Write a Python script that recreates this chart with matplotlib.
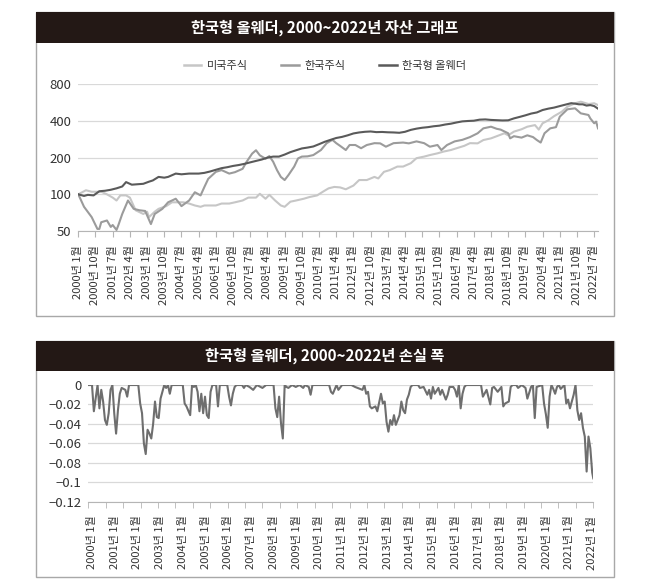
import matplotlib
matplotlib.use("Agg")
import matplotlib.pyplot as plt
from matplotlib.patches import Rectangle
from matplotlib.lines import Line2D
import numpy as np

plt.rcParams['font.family'] = ['Noto Sans CJK KR', 'DejaVu Sans']
plt.rcParams['axes.unicode_minus'] = True

# ---------------- data (month index: 0 = 2000-01) ----------------
title_top = "한국형 올웨더, 2000~2022년 자산 그래프"
title_bottom = "한국형 올웨더, 2000~2022년 손실 폭"
series_names = ["미국주식", "한국주식", "한국형 올웨더"]

# 미국주식 (month, value)
us_points = [
    (0, 100), (4, 108), (7, 105), (12, 105), (15, 100), (18, 94), (20, 89), (22, 98), (25, 98),
    (27, 94), (30, 74), (34, 69), (36, 72), (37, 65), (40, 72), (42, 76), (46, 80), (49, 86),
    (55, 86), (58, 84), (61, 81), (64, 79), (66, 81), (72, 81), (75, 84), (79, 84), (82, 86),
    (86, 89), (89, 94), (93, 94), (95, 101), (98, 92), (100, 99), (103, 89), (106, 81),
    (108, 79), (111, 87), (114, 89), (118, 92), (121, 95), (125, 98), (128, 105), (131, 112),
    (134, 115), (137, 114), (140, 110), (144, 118), (147, 131), (151, 131), (155, 139),
    (157, 135), (160, 153), (163, 158), (167, 169), (170, 169), (174, 180), (177, 198),
    (181, 204), (184, 210), (188, 217), (191, 224), (195, 231), (198, 239), (202, 250),
    (205, 263), (209, 262), (212, 279), (216, 288), (219, 300), (223, 317), (225, 305),
    (228, 327), (232, 342), (235, 359), (239, 370), (241, 340), (243, 383), (246, 405),
    (249, 438), (253, 476), (256, 524), (260, 559), (263, 576), (267, 551), (270, 559),
    (272, 540),
]
# 한국주식 (month, value)
kr_points = [
    (0, 100), (3, 79), (7, 65), (10, 52), (11, 52), (12, 59), (15, 61), (17, 54), (18, 56),
    (20, 51), (21, 56), (23, 69), (26, 89), (29, 76), (32, 74), (35, 73), (38, 57), (40, 69),
    (44, 76), (47, 86), (51, 92), (53, 84), (54, 80), (58, 89), (61, 104), (64, 98), (66, 115),
    (68, 134), (72, 153), (75, 158), (79, 148), (82, 152), (86, 162), (88, 184), (91, 216),
    (93, 230), (95, 209), (98, 196), (100, 206), (102, 185), (104, 158), (106, 139), (108, 131),
    (110, 144), (113, 169), (115, 197), (117, 204), (120, 205), (123, 210), (127, 231),
    (130, 263), (133, 280), (135, 263), (137, 250), (140, 231), (142, 254), (145, 254),
    (148, 239), (151, 254), (155, 263), (158, 262), (161, 246), (165, 263), (170, 266),
    (173, 262), (177, 272), (181, 263), (184, 246), (188, 254), (190, 231), (193, 254),
    (197, 272), (201, 280), (205, 295), (209, 317), (212, 348), (216, 359), (219, 345),
    (221, 340), (225, 317), (226, 288), (228, 300), (232, 292), (235, 305), (238, 295),
    (240, 279), (242, 266), (244, 317), (247, 348), (250, 356), (252, 434), (256, 499),
    (260, 508), (263, 462), (267, 448), (268, 419), (270, 383), (271, 395), (272, 348),
]
# 한국형 올웨더 (month, value)
aw_points = [
    (0, 100), (3, 97), (5, 99), (8, 98), (11, 106), (14, 107), (17, 109), (20, 112), (23, 116),
    (25, 126), (28, 120), (31, 121), (34, 122), (37, 127), (39, 130), (42, 139), (45, 137),
    (47, 139), (51, 148), (54, 146), (58, 148), (63, 148), (66, 150), (69, 154), (72, 159),
    (75, 164), (78, 167), (81, 171), (84, 174), (87, 178), (90, 183), (93, 188), (96, 193),
    (99, 200), (102, 204), (105, 204), (108, 212), (111, 222), (114, 230), (117, 238),
    (120, 242), (123, 247), (126, 258), (129, 270), (132, 280), (135, 290), (138, 296),
    (141, 305), (144, 316), (147, 322), (150, 326), (153, 328), (156, 324), (159, 325),
    (162, 323), (165, 322), (168, 320), (171, 326), (174, 338), (177, 346), (180, 352),
    (183, 356), (186, 362), (189, 366), (192, 374), (195, 380), (198, 389), (201, 397),
    (204, 400), (207, 402), (210, 410), (213, 412), (216, 408), (219, 406), (222, 404),
    (225, 405), (228, 420), (231, 432), (234, 445), (237, 460), (240, 470), (243, 492),
    (246, 505), (249, 515), (252, 530), (255, 545), (258, 560), (260, 555), (262, 548),
    (264, 548), (266, 535), (268, 540), (270, 530), (272, 505),
]
# 손실 폭 (month, value)
dd_points = [
    (0, 0), (2, 0), (3, -0.027), (5, 0), (6, -0.024), (7, -0.005), (8, -0.017), (9, -0.036),
    (10, -0.041), (11, -0.029), (12, -0.005), (13, 0), (14, -0.029), (15, -0.050), (16, -0.026),
    (17, -0.009), (18, -0.003), (20, -0.005), (21, -0.012), (22, 0), (27, 0), (28, -0.019),
    (29, -0.029), (30, -0.060), (31, -0.071), (32, -0.046), (33, -0.050), (34, -0.055),
    (35, -0.040), (36, -0.017), (37, -0.033), (38, -0.034), (39, -0.014), (40, -0.007), (41, 0),
    (42, -0.003), (43, 0), (44, -0.009), (45, 0), (51, 0), (52, -0.019), (53, -0.022),
    (55, -0.031), (56, 0), (57, -0.002), (58, 0), (59, -0.007), (60, -0.027), (61, -0.009),
    (62, -0.029), (63, -0.012), (64, -0.031), (65, -0.034), (66, -0.007), (67, 0), (69, 0),
    (70, -0.022), (71, 0), (75, 0), (76, -0.012), (77, -0.021), (78, -0.009), (79, -0.002),
    (80, 0), (83, 0), (84, -0.003), (85, 0), (87, -0.002), (89, -0.005), (91, 0), (93, -0.002),
    (94, -0.003), (96, 0), (100, 0), (101, -0.024), (102, -0.033), (103, -0.012), (104, -0.039),
    (105, -0.055), (106, 0), (107, -0.002), (108, -0.003), (110, 0), (112, -0.002), (114, 0),
    (116, -0.003), (117, 0), (119, -0.002), (120, -0.010), (121, 0), (130, 0), (131, -0.007),
    (132, -0.009), (134, 0), (135, -0.005), (137, 0), (142, 0), (144, -0.002), (148, -0.005),
    (149, 0), (150, -0.009), (151, -0.007), (152, -0.022), (153, -0.024), (155, -0.022),
    (156, -0.027), (158, -0.009), (159, -0.019), (160, -0.017), (161, -0.038), (162, -0.048),
    (163, -0.036), (164, -0.041), (165, -0.031), (166, -0.041), (168, -0.031), (169, -0.017),
    (170, -0.026), (171, -0.029), (172, -0.015), (173, -0.010), (174, -0.002), (175, 0),
    (178, 0), (179, -0.003), (181, -0.002), (183, -0.010), (184, -0.005), (185, -0.014),
    (186, -0.002), (187, -0.009), (189, -0.003), (190, -0.010), (191, -0.005), (193, -0.015),
    (194, -0.010), (195, -0.002), (197, -0.002), (198, -0.005), (199, -0.012), (200, 0),
    (201, -0.024), (202, -0.009), (203, -0.002), (204, 0), (212, 0), (213, -0.012),
    (215, -0.005), (217, -0.020), (218, -0.003), (219, -0.002), (221, -0.007), (223, -0.002),
    (224, -0.022), (225, -0.019), (227, -0.017), (228, -0.002), (229, 0), (231, 0),
    (232, -0.003), (234, 0), (236, -0.003), (237, -0.014), (239, -0.002), (240, 0),
    (241, -0.034), (242, -0.002), (245, 0), (246, -0.019), (247, -0.030), (248, -0.044),
    (249, -0.012), (250, 0), (251, -0.004), (252, -0.009), (253, -0.002), (254, 0),
    (255, -0.004), (257, 0), (258, -0.019), (259, -0.015), (260, -0.024), (261, -0.017),
    (262, -0.010), (263, 0), (264, -0.026), (265, -0.036), (266, -0.029), (267, -0.044),
    (268, -0.053), (269, -0.089), (270, -0.053), (271, -0.065), (272, -0.090), (272.6, -0.096),
]

top_yticks = [50, 100, 200, 400, 800]
top_ytick_labels = ["50", "100", "200", "400", "800"]
top_xtick_labels = ["2000년 1월", "2000년 10월", "2001년 7월", "2002년 4월", "2003년 1월",
                    "2003년 10월", "2004년 7월", "2005년 4월", "2006년 1월", "2006년 10월",
                    "2007년 7월", "2008년 4월", "2009년 1월", "2009년 10월", "2010년 7월",
                    "2011년 4월", "2012년 1월", "2012년 10월", "2013년 7월", "2014년 4월",
                    "2015년 1월", "2015년 10월", "2016년 7월", "2017년 4월", "2018년 1월",
                    "2018년 10월", "2019년 7월", "2020년 4월", "2021년 1월", "2021년 10월",
                    "2022년 7월"]
bottom_yticks = [0, -0.02, -0.04, -0.06, -0.08, -0.1, -0.12]
bottom_ytick_labels = ["0", "\u22120.02", "\u22120.04", "\u22120.06", "\u22120.08", "\u22120.1",
                       "\u22120.12"]
bottom_xtick_labels = ["2000년 1월", "2001년 1월", "2002년 1월", "2003년 1월", "2004년 1월",
                       "2005년 1월", "2006년 1월", "2007년 1월", "2008년 1월", "2009년 1월",
                       "2010년 1월", "2011년 1월", "2012년 1월", "2013년 1월", "2014년 1월",
                       "2015년 1월", "2016년 1월", "2017년 1월", "2018년 1월", "2019년 1월",
                       "2020년 1월", "2021년 1월", "2022년 1월"]


def split(points):
    return [p[0] for p in points], [p[1] for p in points]


# ---------------- style ----------------
c_us, c_kr, c_aw, c_dd = "#c6c6c6", "#9b9b9b", "#5a5a5a", "#6e6e6e"
bar_color = "#231815"
grid_color = "#d9d9d9"
axis_color = "#b5b5b5"
text_color = "#333333"

W, H = 650, 585
fig = plt.figure(figsize=(W / 100, H / 100), dpi=100)
fig.patch.set_facecolor("white")

def fx(px):
    return px / W

def fy(py):
    return 1 - py / H

box_left, box_right = 35.7, 614.3
for top, bot, bar_bot, ttl in [(12.3, 316, 43.3, title_top), (340.7, 577, 370.7, title_bottom)]:
    fig.patches.append(Rectangle((fx(box_left), fy(bot)), fx(box_right) - fx(box_left),
                                 fy(top) - fy(bot), transform=fig.transFigure,
                                 facecolor="white", edgecolor="#a8a8a8", lw=1.0, zorder=-2))
    fig.patches.append(Rectangle((fx(box_left), fy(bar_bot)), fx(box_right) - fx(box_left),
                                 fy(top) - fy(bar_bot), transform=fig.transFigure,
                                 facecolor=bar_color, edgecolor="none", zorder=-1))
    fig.text(0.5, fy((top + bar_bot) / 2), ttl, color="white", fontsize=11, fontweight="bold",
             ha="center", va="center")

# ---------------- top chart ----------------
ax1 = fig.add_axes([fx(78.3), fy(231), fx(598) - fx(78.3), fy(84.3) - fy(231)])
ax1.set_zorder(2)
ax1.patch.set_alpha(0)
ax1.set_yscale("log")
for pts, col in ((us_points, c_us), (kr_points, c_kr), (aw_points, c_aw)):
    xs, ys = split(pts)
    ax1.plot(xs, ys, color=col, lw=1.5, solid_joinstyle="round")
ax1.set_ylim(50, 800)
ax1.set_xlim(0, 272)
ax1.set_yticks(top_yticks)
ax1.set_yticklabels(top_ytick_labels)
ax1.minorticks_off()
ax1.set_xticks(np.arange(len(top_xtick_labels)) * 9)
ax1.set_xticklabels(top_xtick_labels, rotation=90, ha="center", va="top")
for s in ["top", "right", "left"]:
    ax1.spines[s].set_visible(False)
ax1.spines["bottom"].set_color(axis_color)
ax1.grid(axis="y", color=grid_color, lw=0.9)
ax1.set_axisbelow(True)
ax1.tick_params(axis="y", length=0, pad=5, labelsize=9.5, labelcolor=text_color)
ax1.tick_params(axis="x", length=4, color=axis_color, pad=6, labelsize=8, labelcolor=text_color)

handles = [Line2D([], [], color=c, lw=1.8) for c in (c_us, c_kr, c_aw)]
leg = fig.legend(handles, series_names, loc="center", bbox_to_anchor=(0.5, fy(66)), ncol=3,
                 frameon=False, fontsize=8, handlelength=1.6, handletextpad=0.5,
                 columnspacing=3.0, labelcolor=text_color)
leg.set_zorder(3)

# ---------------- bottom chart ----------------
ax2 = fig.add_axes([fx(88.3), fy(501.7), fx(593.3) - fx(88.3), fy(385) - fy(501.7)])
ax2.set_zorder(2)
ax2.patch.set_alpha(0)
dxs, dys = split(dd_points)
ax2.plot(dxs, dys, color=c_dd, lw=1.5, solid_joinstyle="round")
ax2.set_xlim(0, 272.6)
ax2.set_ylim(-0.12, 0)
ax2.set_yticks(bottom_yticks)
ax2.set_yticklabels(bottom_ytick_labels)
ax2.set_xticks(np.linspace(2, 272, len(bottom_xtick_labels)))
ax2.set_xticklabels(bottom_xtick_labels, rotation=90, ha="center", va="top")
ax2.set_xticks(np.linspace(0, 272.6, 30), minor=True)
for s in ["top", "right", "left"]:
    ax2.spines[s].set_visible(False)
ax2.spines["bottom"].set_color(axis_color)
ax2.grid(axis="y", color=grid_color, lw=0.9)
ax2.set_axisbelow(True)
ax2.tick_params(axis="y", length=0, pad=5, labelsize=9.5, labelcolor=text_color)
ax2.tick_params(axis="x", which="major", length=0, pad=10, labelsize=8, labelcolor=text_color)
ax2.tick_params(axis="x", which="minor", length=4, color=axis_color)

fig.savefig("out.png", dpi=100, facecolor="white")
